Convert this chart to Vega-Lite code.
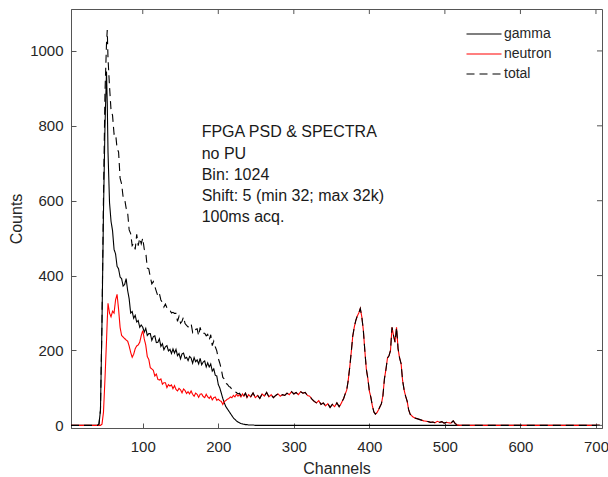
{
  "$schema": "https://vega.github.io/schema/vega-lite/v6.json",
  "width": 531,
  "height": 419,
  "autosize": {"type": "none"},
  "padding": {"left": 71, "top": 9, "right": 6, "bottom": 49},
  "background": "#ffffff",
  "config": {
    "view": {"stroke": "#555555", "strokeWidth": 1},
    "font": "Liberation Sans",
    "axis": {
      "grid": false,
      "domainColor": "#555555",
      "tickColor": "#555555",
      "tickSize": -5,
      "labelColor": "#262626",
      "titleColor": "#262626",
      "labelFont": "Liberation Sans",
      "titleFont": "Liberation Sans",
      "labelFontSize": 15,
      "titleFontSize": 16,
      "titleFontWeight": "normal"
    }
  },
  "layer": [
    {
      "data": {
        "values": [
          {"c": 5, "gamma": 0, "neutron": 0, "total": 0},
          {"c": 40, "gamma": 0, "neutron": 0, "total": 0},
          {"c": 42, "gamma": 3, "neutron": 0, "total": 3},
          {"c": 44, "gamma": 40, "neutron": 0, "total": 40},
          {"c": 46, "gamma": 270, "neutron": 3, "total": 275},
          {"c": 48, "gamma": 570, "neutron": 35, "total": 610},
          {"c": 50, "gamma": 800, "neutron": 125, "total": 890},
          {"c": 52, "gamma": 945, "neutron": 225, "total": 1020},
          {"c": 53, "gamma": 860, "neutron": 280, "total": 1056},
          {"c": 54, "gamma": 730, "neutron": 326, "total": 980},
          {"c": 56, "gamma": 595, "neutron": 300, "total": 905},
          {"c": 58, "gamma": 545, "neutron": 290, "total": 842},
          {"c": 60, "gamma": 520, "neutron": 305, "total": 828},
          {"c": 62, "gamma": 470, "neutron": 300, "total": 778},
          {"c": 64, "gamma": 458, "neutron": 335, "total": 780},
          {"c": 66, "gamma": 425, "neutron": 350, "total": 740},
          {"c": 68, "gamma": 418, "neutron": 310, "total": 730},
          {"c": 70, "gamma": 396, "neutron": 262, "total": 660},
          {"c": 72, "gamma": 392, "neutron": 240, "total": 645},
          {"c": 74, "gamma": 372, "neutron": 236, "total": 610},
          {"c": 76, "gamma": 376, "neutron": 232, "total": 605},
          {"c": 78, "gamma": 392, "neutron": 228, "total": 580},
          {"c": 80, "gamma": 360, "neutron": 225, "total": 568},
          {"c": 82, "gamma": 338, "neutron": 212, "total": 522},
          {"c": 84, "gamma": 300, "neutron": 195, "total": 512},
          {"c": 86, "gamma": 304, "neutron": 182, "total": 480},
          {"c": 88, "gamma": 286, "neutron": 190, "total": 486},
          {"c": 90, "gamma": 294, "neutron": 205, "total": 470},
          {"c": 92, "gamma": 276, "neutron": 212, "total": 510},
          {"c": 94, "gamma": 280, "neutron": 215, "total": 480},
          {"c": 96, "gamma": 262, "neutron": 222, "total": 500},
          {"c": 98, "gamma": 268, "neutron": 240, "total": 485},
          {"c": 100, "gamma": 262, "neutron": 253, "total": 500},
          {"c": 102, "gamma": 249, "neutron": 231, "total": 470},
          {"c": 104, "gamma": 259, "neutron": 214, "total": 462},
          {"c": 106, "gamma": 240, "neutron": 184, "total": 420},
          {"c": 108, "gamma": 245, "neutron": 176, "total": 418},
          {"c": 110, "gamma": 245, "neutron": 154, "total": 396},
          {"c": 112, "gamma": 227, "neutron": 151, "total": 378},
          {"c": 114, "gamma": 237, "neutron": 147, "total": 384},
          {"c": 116, "gamma": 239, "neutron": 132, "total": 371},
          {"c": 118, "gamma": 221, "neutron": 137, "total": 358},
          {"c": 120, "gamma": 222, "neutron": 123, "total": 345},
          {"c": 122, "gamma": 231, "neutron": 121, "total": 352},
          {"c": 124, "gamma": 211, "neutron": 124, "total": 335},
          {"c": 126, "gamma": 218, "neutron": 110, "total": 328},
          {"c": 128, "gamma": 202, "neutron": 114, "total": 316},
          {"c": 130, "gamma": 210, "neutron": 114, "total": 324},
          {"c": 132, "gamma": 213, "neutron": 101, "total": 314},
          {"c": 134, "gamma": 199, "neutron": 109, "total": 308},
          {"c": 136, "gamma": 203, "neutron": 105, "total": 308},
          {"c": 138, "gamma": 192, "neutron": 108, "total": 300},
          {"c": 140, "gamma": 204, "neutron": 98, "total": 302},
          {"c": 142, "gamma": 193, "neutron": 106, "total": 299},
          {"c": 144, "gamma": 203, "neutron": 96, "total": 299},
          {"c": 146, "gamma": 186, "neutron": 92, "total": 278},
          {"c": 148, "gamma": 192, "neutron": 99, "total": 291},
          {"c": 150, "gamma": 178, "neutron": 95, "total": 273},
          {"c": 152, "gamma": 191, "neutron": 87, "total": 278},
          {"c": 154, "gamma": 193, "neutron": 97, "total": 290},
          {"c": 156, "gamma": 179, "neutron": 93, "total": 272},
          {"c": 158, "gamma": 182, "neutron": 85, "total": 267},
          {"c": 160, "gamma": 173, "neutron": 90, "total": 263},
          {"c": 162, "gamma": 184, "neutron": 84, "total": 268},
          {"c": 164, "gamma": 180, "neutron": 92, "total": 272},
          {"c": 166, "gamma": 166, "neutron": 83, "total": 249},
          {"c": 168, "gamma": 181, "neutron": 78, "total": 259},
          {"c": 170, "gamma": 170, "neutron": 86, "total": 256},
          {"c": 172, "gamma": 175, "neutron": 83, "total": 258},
          {"c": 174, "gamma": 164, "neutron": 75, "total": 239},
          {"c": 176, "gamma": 179, "neutron": 83, "total": 262},
          {"c": 178, "gamma": 162, "neutron": 84, "total": 246},
          {"c": 180, "gamma": 169, "neutron": 77, "total": 246},
          {"c": 182, "gamma": 172, "neutron": 74, "total": 246},
          {"c": 184, "gamma": 156, "neutron": 83, "total": 239},
          {"c": 186, "gamma": 167, "neutron": 76, "total": 243},
          {"c": 188, "gamma": 156, "neutron": 72, "total": 228},
          {"c": 190, "gamma": 164, "neutron": 78, "total": 242},
          {"c": 192, "gamma": 145, "neutron": 68, "total": 213},
          {"c": 194, "gamma": 151, "neutron": 74, "total": 225},
          {"c": 196, "gamma": 134, "neutron": 76, "total": 210},
          {"c": 198, "gamma": 132, "neutron": 67, "total": 199},
          {"c": 200, "gamma": 109, "neutron": 70, "total": 179},
          {"c": 202, "gamma": 100, "neutron": 66, "total": 166},
          {"c": 204, "gamma": 86, "neutron": 64, "total": 150},
          {"c": 206, "gamma": 72, "neutron": 56, "total": 128},
          {"c": 208, "gamma": 60, "neutron": 64, "total": 124},
          {"c": 210, "gamma": 50, "neutron": 66, "total": 112},
          {"c": 212, "gamma": 44, "neutron": 70, "total": 110},
          {"c": 214, "gamma": 38, "neutron": 72, "total": 104},
          {"c": 216, "gamma": 32, "neutron": 76, "total": 102},
          {"c": 218, "gamma": 26, "neutron": 74, "total": 96},
          {"c": 220, "gamma": 20, "neutron": 80, "total": 94},
          {"c": 222, "gamma": 16, "neutron": 76, "total": 90},
          {"c": 224, "gamma": 12, "neutron": 83, "total": 88},
          {"c": 226, "gamma": 9, "neutron": 78, "total": 84},
          {"c": 228, "gamma": 7, "neutron": 82, "total": 86},
          {"c": 230, "gamma": 5, "neutron": 76, "total": 80},
          {"c": 232, "gamma": 4, "neutron": 84, "total": 86},
          {"c": 234, "gamma": 3, "neutron": 78, "total": 80},
          {"c": 236, "gamma": 2, "neutron": 86, "total": 86},
          {"c": 238, "gamma": 2, "neutron": 74, "total": 76},
          {"c": 240, "gamma": 1, "neutron": 82, "total": 83},
          {"c": 243, "gamma": 1, "neutron": 76, "total": 77},
          {"c": 246, "gamma": 1, "neutron": 86, "total": 87},
          {"c": 249, "gamma": 0, "neutron": 74, "total": 74},
          {"c": 252, "gamma": 0, "neutron": 80, "total": 80},
          {"c": 255, "gamma": 0, "neutron": 72, "total": 72},
          {"c": 258, "gamma": 0, "neutron": 84, "total": 84},
          {"c": 261, "gamma": 0, "neutron": 78, "total": 78},
          {"c": 264, "gamma": 0, "neutron": 88, "total": 88},
          {"c": 267, "gamma": 0, "neutron": 76, "total": 76},
          {"c": 270, "gamma": 0, "neutron": 82, "total": 82},
          {"c": 273, "gamma": 0, "neutron": 74, "total": 74},
          {"c": 276, "gamma": 0, "neutron": 80, "total": 80},
          {"c": 279, "gamma": 0, "neutron": 84, "total": 84},
          {"c": 282, "gamma": 0, "neutron": 78, "total": 78},
          {"c": 285, "gamma": 0, "neutron": 82, "total": 82},
          {"c": 288, "gamma": 0, "neutron": 80, "total": 80},
          {"c": 291, "gamma": 0, "neutron": 86, "total": 86},
          {"c": 294, "gamma": 0, "neutron": 82, "total": 82},
          {"c": 297, "gamma": 0, "neutron": 90, "total": 90},
          {"c": 300, "gamma": 0, "neutron": 84, "total": 84},
          {"c": 303, "gamma": 0, "neutron": 88, "total": 88},
          {"c": 306, "gamma": 0, "neutron": 82, "total": 82},
          {"c": 309, "gamma": 0, "neutron": 90, "total": 90},
          {"c": 312, "gamma": 0, "neutron": 86, "total": 86},
          {"c": 315, "gamma": 0, "neutron": 88, "total": 88},
          {"c": 318, "gamma": 0, "neutron": 80, "total": 80},
          {"c": 321, "gamma": 0, "neutron": 78, "total": 78},
          {"c": 324, "gamma": 0, "neutron": 70, "total": 70},
          {"c": 327, "gamma": 0, "neutron": 64, "total": 64},
          {"c": 330, "gamma": 0, "neutron": 60, "total": 60},
          {"c": 333, "gamma": 0, "neutron": 66, "total": 66},
          {"c": 336, "gamma": 0, "neutron": 56, "total": 56},
          {"c": 339, "gamma": 0, "neutron": 60, "total": 60},
          {"c": 342, "gamma": 0, "neutron": 52, "total": 52},
          {"c": 345, "gamma": 0, "neutron": 58, "total": 58},
          {"c": 348, "gamma": 0, "neutron": 48, "total": 48},
          {"c": 351, "gamma": 0, "neutron": 56, "total": 56},
          {"c": 354, "gamma": 0, "neutron": 50, "total": 50},
          {"c": 357, "gamma": 0, "neutron": 60, "total": 60},
          {"c": 360, "gamma": 0, "neutron": 50, "total": 50},
          {"c": 362, "gamma": 0, "neutron": 56, "total": 56},
          {"c": 364, "gamma": 0, "neutron": 64, "total": 64},
          {"c": 366, "gamma": 0, "neutron": 72, "total": 72},
          {"c": 368, "gamma": 0, "neutron": 84, "total": 84},
          {"c": 370, "gamma": 0, "neutron": 94, "total": 94},
          {"c": 372, "gamma": 0, "neutron": 120, "total": 120},
          {"c": 374, "gamma": 0, "neutron": 155, "total": 155},
          {"c": 376, "gamma": 0, "neutron": 195, "total": 195},
          {"c": 378, "gamma": 0, "neutron": 238, "total": 238},
          {"c": 380, "gamma": 0, "neutron": 262, "total": 262},
          {"c": 382, "gamma": 0, "neutron": 280, "total": 280},
          {"c": 384, "gamma": 0, "neutron": 292, "total": 292},
          {"c": 386, "gamma": 0, "neutron": 300, "total": 300},
          {"c": 388, "gamma": 0, "neutron": 312, "total": 312},
          {"c": 390, "gamma": 0, "neutron": 290, "total": 290},
          {"c": 392, "gamma": 0, "neutron": 255, "total": 255},
          {"c": 394, "gamma": 0, "neutron": 200, "total": 200},
          {"c": 396, "gamma": 0, "neutron": 150, "total": 150},
          {"c": 398, "gamma": 0, "neutron": 125, "total": 125},
          {"c": 400, "gamma": 0, "neutron": 92, "total": 92},
          {"c": 402, "gamma": 0, "neutron": 75, "total": 75},
          {"c": 404, "gamma": 0, "neutron": 52, "total": 52},
          {"c": 406, "gamma": 0, "neutron": 36, "total": 36},
          {"c": 408, "gamma": 0, "neutron": 30, "total": 30},
          {"c": 410, "gamma": 0, "neutron": 34, "total": 34},
          {"c": 412, "gamma": 0, "neutron": 41, "total": 41},
          {"c": 414, "gamma": 0, "neutron": 50, "total": 50},
          {"c": 416, "gamma": 0, "neutron": 58, "total": 58},
          {"c": 418, "gamma": 0, "neutron": 80, "total": 80},
          {"c": 420, "gamma": 0, "neutron": 125, "total": 125},
          {"c": 422, "gamma": 0, "neutron": 150, "total": 150},
          {"c": 424, "gamma": 0, "neutron": 180, "total": 180},
          {"c": 426, "gamma": 0, "neutron": 186, "total": 186},
          {"c": 428, "gamma": 0, "neutron": 200, "total": 200},
          {"c": 430, "gamma": 0, "neutron": 262, "total": 262},
          {"c": 432, "gamma": 0, "neutron": 240, "total": 240},
          {"c": 434, "gamma": 0, "neutron": 222, "total": 222},
          {"c": 436, "gamma": 0, "neutron": 262, "total": 262},
          {"c": 438, "gamma": 0, "neutron": 205, "total": 205},
          {"c": 440, "gamma": 0, "neutron": 180, "total": 180},
          {"c": 442, "gamma": 0, "neutron": 165, "total": 165},
          {"c": 444, "gamma": 0, "neutron": 120, "total": 120},
          {"c": 446, "gamma": 0, "neutron": 95, "total": 95},
          {"c": 448, "gamma": 0, "neutron": 78, "total": 78},
          {"c": 450, "gamma": 0, "neutron": 65, "total": 65},
          {"c": 452, "gamma": 0, "neutron": 42, "total": 42},
          {"c": 454, "gamma": 0, "neutron": 30, "total": 30},
          {"c": 456, "gamma": 0, "neutron": 26, "total": 26},
          {"c": 458, "gamma": 0, "neutron": 22, "total": 22},
          {"c": 460, "gamma": 0, "neutron": 20, "total": 20},
          {"c": 463, "gamma": 0, "neutron": 18, "total": 18},
          {"c": 466, "gamma": 0, "neutron": 16, "total": 16},
          {"c": 469, "gamma": 0, "neutron": 14, "total": 14},
          {"c": 472, "gamma": 0, "neutron": 12, "total": 12},
          {"c": 475, "gamma": 0, "neutron": 11, "total": 11},
          {"c": 478, "gamma": 0, "neutron": 10, "total": 10},
          {"c": 481, "gamma": 0, "neutron": 8, "total": 8},
          {"c": 484, "gamma": 0, "neutron": 9, "total": 9},
          {"c": 487, "gamma": 0, "neutron": 7, "total": 7},
          {"c": 490, "gamma": 0, "neutron": 11, "total": 11},
          {"c": 493, "gamma": 0, "neutron": 8, "total": 8},
          {"c": 496, "gamma": 0, "neutron": 10, "total": 10},
          {"c": 499, "gamma": 0, "neutron": 6, "total": 6},
          {"c": 502, "gamma": 0, "neutron": 8, "total": 8},
          {"c": 505, "gamma": 0, "neutron": 7, "total": 7},
          {"c": 508, "gamma": 0, "neutron": 6, "total": 6},
          {"c": 511, "gamma": 0, "neutron": 12, "total": 12},
          {"c": 514, "gamma": 0, "neutron": 4, "total": 4},
          {"c": 517, "gamma": 0, "neutron": 1, "total": 1},
          {"c": 520, "gamma": 0, "neutron": 0, "total": 0},
          {"c": 705, "gamma": 0, "neutron": 0, "total": 0}
        ]
      },
      "transform": [{"fold": ["gamma", "neutron", "total"], "as": ["series", "value"]}],
      "mark": {"type": "line", "strokeWidth": 1.1, "clip": true},
      "encoding": {
        "x": {
          "field": "c", "type": "quantitative",
          "scale": {"domain": [5, 708], "nice": false, "zero": false},
          "axis": {"orient": "bottom", "values": [100, 200, 300, 400, 500, 600, 700], "labelPadding": 16, "title": "Channels", "titlePadding": 6}
        },
        "y": {
          "field": "value", "type": "quantitative",
          "scale": {"domain": [-7, 1112], "nice": false, "zero": false},
          "axis": {"orient": "left", "values": [0, 200, 400, 600, 800, 1000], "format": "d", "labelPadding": 13, "title": "Counts", "titlePadding": 5}
        },
        "color": {
          "field": "series", "type": "nominal",
          "scale": {"domain": ["gamma", "neutron", "total"], "range": ["#000000", "#ff0000", "#000000"]},
          "legend": {
            "title": null, "orient": "none", "legendX": 405, "legendY": 17,
            "padding": 0, "symbolType": "M-2.5,0H2.5", "symbolSize": 196, "symbolStrokeWidth": 1.2,
            "labelFontSize": 14, "labelFont": "Liberation Sans", "labelColor": "#262626", "labelOffset": 12,
            "rowPadding": 5,
            "encode": {"symbols": {"update": {"strokeDash": {"signal": "datum.value === 'total' ? [8, 5] : [1, 0]"}}}}
          }
        },
        "strokeDash": {
          "field": "series", "type": "nominal",
          "scale": {"domain": ["gamma", "neutron", "total"], "range": [[1, 0], [1, 0], [8, 5]]},
          "legend": null
        }
      }
    },
    {
      "data": {"values": [{"c": 178, "value": 769}]},
      "mark": {
        "type": "text", "align": "left", "baseline": "alphabetic",
        "fontSize": 16, "lineHeight": 21.1, "font": "Liberation Sans", "color": "#1a1a1a",
        "text": ["FPGA PSD & SPECTRA", "no PU", "Bin: 1024", "Shift: 5 (min 32; max 32k)", "100ms acq."]
      },
      "encoding": {
        "x": {"field": "c", "type": "quantitative", "scale": {"domain": [5, 708], "nice": false, "zero": false}, "axis": null},
        "y": {"field": "value", "type": "quantitative", "scale": {"domain": [-7, 1112], "nice": false, "zero": false}, "axis": null}
      }
    },
    {
      "mark": {"type": "rule", "color": "#555555", "strokeWidth": 1},
      "encoding": {
        "x": {"datum": 5, "type": "quantitative", "scale": {"domain": [5, 708], "nice": false, "zero": false}, "axis": null},
        "x2": {"datum": 708},
        "y": {"datum": 1110, "type": "quantitative", "scale": {"domain": [-7, 1112], "nice": false, "zero": false}, "axis": null}
      }
    },
    {
      "mark": {"type": "rule", "color": "#555555", "strokeWidth": 1},
      "encoding": {
        "x": {"datum": 707, "type": "quantitative", "scale": {"domain": [5, 708], "nice": false, "zero": false}, "axis": null},
        "y": {"datum": -7, "type": "quantitative", "scale": {"domain": [-7, 1112], "nice": false, "zero": false}, "axis": null},
        "y2": {"datum": 1112}
      }
    },
    {
      "data": {"values": [{"t": 100}, {"t": 200}, {"t": 300}, {"t": 400}, {"t": 500}, {"t": 600}, {"t": 700}]},
      "mark": {"type": "rule", "color": "#555555", "strokeWidth": 1},
      "encoding": {
        "x": {"field": "t", "type": "quantitative", "scale": {"domain": [5, 708], "nice": false, "zero": false}, "axis": null},
        "y": {"datum": 1112, "type": "quantitative", "scale": {"domain": [-7, 1112], "nice": false, "zero": false}, "axis": null},
        "y2": {"datum": 1098.6}
      }
    },
    {
      "data": {"values": [{"t": 0}, {"t": 200}, {"t": 400}, {"t": 600}, {"t": 800}, {"t": 1000}]},
      "mark": {"type": "rule", "color": "#555555", "strokeWidth": 1},
      "encoding": {
        "y": {"field": "t", "type": "quantitative", "scale": {"domain": [-7, 1112], "nice": false, "zero": false}, "axis": null},
        "x": {"datum": 708, "type": "quantitative", "scale": {"domain": [5, 708], "nice": false, "zero": false}, "axis": null},
        "x2": {"datum": 701.4}
      }
    }
  ],
  "resolve": {"scale": {"x": "independent", "y": "independent"}, "axis": {"x": "independent", "y": "independent"}}
}
